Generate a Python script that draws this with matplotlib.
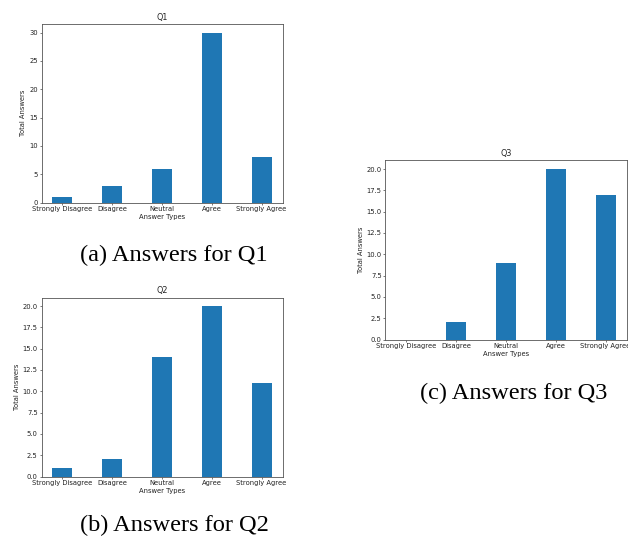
import matplotlib
matplotlib.use("Agg")
import matplotlib.pyplot as plt

categories = ["Strongly Disagree", "Disagree", "Neutral", "Agree", "Strongly Agree"]
q1_values = [1, 3, 6, 30, 8]
q2_values = [1, 2, 14, 20, 11]
q3_values = [0, 2, 9, 20, 17]
titles = ["Q1", "Q2", "Q3"]
captions = ["(a) Answers for Q1", "(b) Answers for Q2", "(c) Answers for Q3"]

W, H = 628, 540
fig = plt.figure(figsize=(W / 100, H / 100), dpi=100)

# axes boxes in pixels: left, top, right, bottom
boxes = [(41.5, 24, 282.5, 202.5), (41.5, 297.5, 282.5, 476.5), (385.5, 160.5, 626.5, 339.5)]
caption_pos = [(174, 255.5), (174, 525), (514, 393)]
series = [q1_values, q2_values, q3_values]

fs = 4.9
txt_col = "#222222"
for (l, t, r, b), vals, title, cap, (cx, cy) in zip(boxes, series, titles, captions, caption_pos):
    ax = fig.add_axes([l / W, 1 - b / H, (r - l) / W, (b - t) / H])
    ax.bar(categories, vals, width=0.4, color="#1f77b4")
    ax.set_title(title, fontsize=5.8, pad=3, color=txt_col)
    ax.set_xlabel("Answer Types", fontsize=fs, labelpad=1, color=txt_col)
    ax.set_ylabel("Total Answers", fontsize=fs, labelpad=2, color=txt_col)
    ax.tick_params(labelsize=fs, length=1.7, width=0.5, pad=1, colors="#444444", labelcolor=txt_col)
    for s in ax.spines.values():
        s.set_linewidth(0.6)
        s.set_color("#555555")
    fig.text(cx / W, 1 - cy / H, cap, ha="center", va="center",
             fontsize=17.6, family="Liberation Serif")

fig.savefig("out.png", dpi=100)
